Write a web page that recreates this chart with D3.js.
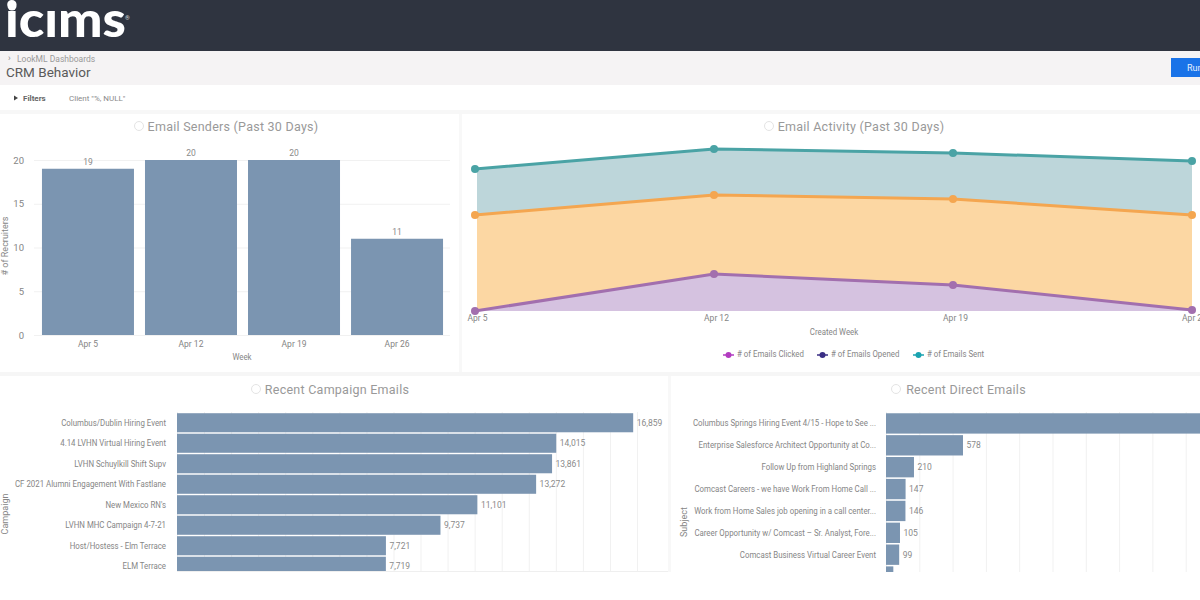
<!DOCTYPE html>
<html>
<head>
<meta charset="utf-8">
<script src="https://cdn.jsdelivr.net/npm/d3@7"></script>
<style>
body { margin: 0; background: #fff; overflow: hidden; }
svg { display: block; }
text { font-family: Roboto, sans-serif; }
.axis path { display: none; }
.axis line { stroke: #f1f1f1; }
.axis text { fill: #858585; font-size: 8.5px; }
.title { fill: #999999; font-size: 12.5px; text-anchor: middle; letter-spacing: 0.25px; }
.label { fill: #868686; font-size: 9px; }
.val { fill: #8a8a8a; font-size: 8.5px; }
</style>
</head>
<body>
<svg id="chart" width="1200" height="600"></svg>
<script>
// email senders
const weeks = ["Apr 5", "Apr 12", "Apr 19", "Apr 26"];
const recruiters = [19, 20, 20, 11];
const recruiterTicks = [0, 5, 10, 15, 20];

// email activity (no axis in the reference, so units are relative)
const seriesNames = ["# of Emails Clicked", "# of Emails Opened", "# of Emails Sent"];
const clicked = [0, 37, 26, 1];
const opened = [96, 79, 86, 95];
const sent = [46, 46, 46, 54];

// campaign emails
const campaigns = ["Columbus/Dublin Hiring Event", "4.14 LVHN Virtual Hiring Event", "LVHN Schuylkill Shift Supv",
    "CF 2021 Alumni Engagement With Fastlane", "New Mexico RN's", "LVHN MHC Campaign 4-7-21",
    "Host/Hostess - Elm Terrace", "ELM Terrace"];
const campaignValues = [16859, 14015, 13861, 13272, 11101, 9737, 7721, 7719];
const campaignTicks = d3.range(0, 18000, 1000);

// direct emails, first bar runs off the picture and the last one is cut at the bottom
const subjects = ["Columbus Springs Hiring Event 4/15 - Hope to See ...", "Enterprise Salesforce Architect Opportunity at Co...",
    "Follow Up from Highland Springs", "Comcast Careers - we have Work From Home Call ...",
    "Work from Home Sales job opening in a call center...", "Career Opportunity w/ Comcast \u2013 Sr. Analyst, Fore...",
    "Comcast Business Virtual Career Event", ""];
const subjectValues = [2600, 578, 210, 147, 146, 105, 99, 55];
const subjectTicks = d3.range(0, 2750, 250);

const barColor = "#7b95b1";
const squeeze = 0.875; // the reference screenshot is narrower than it is tall
const fmt = d3.format(",");
const svg = d3.select("#chart");

// page chrome
function box(x, y, w, h, fill){
    return svg.append("rect").attr("x", x).attr("y", y).attr("width", w).attr("height", h).attr("fill", fill);
}
function txt(x, y, s, cls){
    return svg.append("text").attr("x", x).attr("y", y).attr("class", cls || "label").text(s);
}
function narrow(x, y, s){
    return svg.append("text").attr("class", "label")
        .attr("transform", "translate(" + x + "," + y + ") scale(" + squeeze + ",1)").text(s);
}

box(0, 0, 1200, 51, "#2f3440");
box(0, 51, 1200, 34, "#f5f3f4");
box(0, 110, 1200, 4, "#f7f7f7");
box(459, 114, 3, 258, "#f8f8f8");
box(0, 372, 1200, 4, "#f6f6f6");
box(668, 376, 3, 196, "#f8f8f8");

txt(5, 37, "icıms").style("fill", "#fff").style("font-family", "Lato, sans-serif")
    .style("font-weight", 900).style("font-size", "50px").attr("textLength", 121).attr("lengthAdjust", "spacingAndGlyphs");
svg.append("circle").attr("cx", 12).attr("cy", 6).attr("r", 4.5).attr("fill", "#fff");
txt(125, 20, "®").style("fill", "#ddd").style("font-size", "6px");

txt(8, 61, "›").style("fill", "#888");
txt(17, 62, "LookML Dashboards").style("fill", "#9a9a9a").style("font-size", "8.5px");
txt(6, 77, "CRM Behavior").style("fill", "#5a5a5a").style("font-size", "13.5px");
box(1171, 58, 29, 19, "#1a73e8");
txt(1187, 71, "Run").style("fill", "#e8f0fe").style("font-size", "9px");
svg.append("path").attr("d", d3.line()([[14, 95.5], [18, 98], [14, 100.5]])).attr("fill", "#444");
txt(23, 101, "Filters").style("fill", "#666").style("font-weight", 700).style("font-size", "8px");
txt(69, 101, 'Client "%, NULL"').style("fill", "#8a8a8a").style("font-size", "8px");

function title(x, y, s, iconx){
    txt(x, y, s, "title");
    svg.append("circle").attr("cx", iconx).attr("cy", y - 5).attr("r", 4.5).attr("fill", "none").attr("stroke", "#e4e4e4");
}
title(233, 131, "Email Senders (Past 30 Days)", 139);
title(861, 131, "Email Activity (Past 30 Days)", 769);
title(337, 394, "Recent Campaign Emails", 256);
title(966, 394, "Recent Direct Emails", 896);

// Email senders
let xWeek = d3.scaleBand().domain(weeks).range([36.5, 448.5]).paddingInner(0.107).paddingOuter(0.053);
let yRec = d3.scaleLinear().domain([0, 20]).range([335, 160]);

svg.append("g").attr("class", "axis").attr("transform", "translate(34,0)")
    .call(d3.axisLeft(yRec).tickValues(recruiterTicks).tickSize(-416).tickPadding(10))
    .selectAll("text").style("font-size", "9.5px");
svg.append("g").selectAll("rect").data(recruiters).join("rect")
    .attr("x", (d, i) => xWeek(weeks[i]))
    .attr("y", d => yRec(d))
    .attr("width", xWeek.bandwidth())
    .attr("height", d => yRec(0) - yRec(d))
    .attr("fill", barColor);
svg.append("g").selectAll("text").data(recruiters).join("text")
    .attr("class", "val")
    .attr("x", (d, i) => xWeek(weeks[i]) + xWeek.bandwidth()/2)
    .attr("y", d => yRec(d) - 4)
    .attr("text-anchor", "middle")
    .text(d => d);
svg.append("g").attr("class", "axis").attr("transform", "translate(0,335)")
    .call(d3.axisBottom(xWeek).tickSize(0).tickPadding(6));
narrow(242, 360, "Week").attr("text-anchor", "middle");
svg.append("text").attr("class", "label").attr("transform", "translate(8,246) rotate(-90)")
    .attr("text-anchor", "middle").text("# of Recruiters");

// Email activity
let xAct = d3.scalePoint().domain(weeks).range([475, 1192]);
let yAct = d3.scaleLinear().domain([0, 170]).range([311, 141]);
let rows = weeks.map((w, i) => ({week: w, clicked: clicked[i], opened: opened[i], sent: sent[i]}));
let stacked = d3.stack().keys(["clicked", "opened", "sent"])(rows);
let fills = ["#d5c2e0", "#fcd7a3", "#bdd6da"];
let strokes = ["#a26fae", "#f4a650", "#4aa3a5"];
let legendColors = ["#b23cc0", "#3a2e85", "#1ba3b0"];

let area = d3.area().x(d => xAct(d.data.week)).y0(d => yAct(d[0])).y1(d => yAct(d[1]));
let topLine = d3.line().x(d => xAct(d.data.week)).y(d => yAct(d[1]));

svg.append("clipPath").attr("id", "actclip").append("rect")
    .attr("x", 477).attr("y", 114).attr("width", 723).attr("height", 258);
svg.append("g").attr("clip-path", "url(#actclip)").selectAll("path").data(stacked).join("path")
    .attr("d", area).attr("fill", (d, i) => fills[i]);
stacked.forEach((s, i) => {
    svg.append("path").attr("d", topLine(s)).attr("fill", "none").attr("stroke", strokes[i]).attr("stroke-width", 3);
    svg.append("g").selectAll("circle").data(s).join("circle")
        .attr("cx", d => xAct(d.data.week))
        .attr("cy", d => yAct(d[1]))
        .attr("r", 4)
        .attr("fill", strokes[i]);
});
svg.append("g").attr("class", "axis").attr("transform", "translate(2,311)")
    .call(d3.axisBottom(xAct).tickSize(0).tickPadding(4));
narrow(834, 335, "Created Week").attr("text-anchor", "middle");

let legendX = [723, 817, 913];
seriesNames.forEach((name, i) => {
    svg.append("line").attr("x1", legendX[i]).attr("x2", legendX[i] + 11).attr("y1", 355).attr("y2", 355)
        .attr("stroke", legendColors[i]).attr("stroke-width", 1.5);
    svg.append("circle").attr("cx", legendX[i] + 5.5).attr("cy", 355).attr("r", 3).attr("fill", legendColors[i]);
    narrow(legendX[i] + 14, 357, name);
});

// shared drawing for the two horizontal bar charts, both cut off at the panel bottom
function hbars(id, names, values, ticks, x, y, labelRight, clipX, clipW){
    svg.append("clipPath").attr("id", id).append("rect")
        .attr("x", clipX).attr("y", 400).attr("width", clipW).attr("height", 172);
    let g = svg.append("g").attr("clip-path", "url(#" + id + ")");

    g.append("g").attr("class", "axis").attr("transform", "translate(0,572)")
        .call(d3.axisTop(x).tickValues(ticks).tickSize(160).tickFormat(""));
    g.selectAll("rect.bar").data(values).join("rect")
        .attr("class", "bar")
        .attr("x", x(0))
        .attr("y", (d, i) => y(names[i]))
        .attr("width", d => x(d) - x(0))
        .attr("height", y.bandwidth())
        .attr("fill", barColor);
    g.selectAll("text.val").data(values).join("text")
        .attr("class", "val")
        .attr("x", d => x(d) + 3.5)
        .attr("y", (d, i) => y(names[i]) + y.bandwidth()/2 + 3)
        .text(d => fmt(d));
    g.selectAll("text.cat").data(names).join("text")
        .attr("class", "cat label")
        .attr("transform", d => "translate(" + labelRight + "," + (y(d) + y.bandwidth()/2 + 3) + ") scale(" + squeeze + ",1)")
        .attr("text-anchor", "end")
        .text(d => d);
}

let xCamp = d3.scaleLinear().domain([0, 17000]).range([177, 637]);
let yCamp = d3.scaleBand().domain(campaigns).range([412.5, 576.5]).paddingInner(0.07).paddingOuter(0.035);
hbars("campclip", campaigns, campaignValues, campaignTicks, xCamp, yCamp, 166, 0, 668);
svg.append("text").attr("class", "label").attr("transform", "translate(8,514) rotate(-90)")
    .attr("text-anchor", "middle").text("Campaign");
svg.append("line").attr("x1", 177).attr("x2", 668).attr("y1", 571.5).attr("y2", 571.5).attr("stroke", "#efefef");

let xSubj = d3.scaleLinear().domain([0, 2500]).range([886, 1219]);
let ySubj = d3.scaleBand().domain(subjects).range([412.5, 587.5]).paddingInner(0.07).paddingOuter(0.035);
hbars("subjclip", subjects, subjectValues, subjectTicks, xSubj, ySubj, 876, 671, 529);
svg.append("text").attr("class", "label").attr("transform", "translate(687,522) rotate(-90)")
    .attr("text-anchor", "middle").text("Subject");
</script>
</body>
</html>
